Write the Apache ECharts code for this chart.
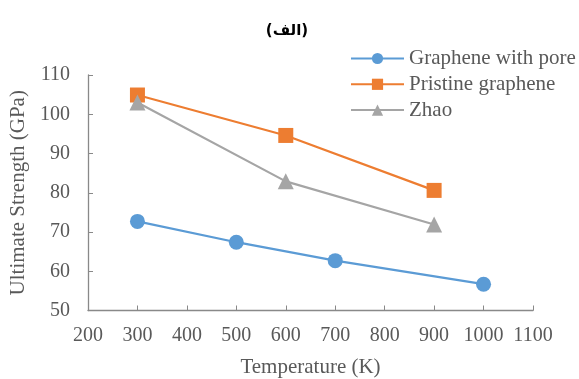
<!DOCTYPE html>
<html><head><meta charset="utf-8">
<script src="https://cdn.jsdelivr.net/npm/echarts@6/dist/echarts.min.js"></script>
<style>html,body{margin:0;padding:0;background:#fff}#c{width:579px;height:379px}</style>
</head><body><div id="c"></div>
<script>
const titleText = '(الف)';
const xName = 'Temperature (K)';
const yName = 'Ultimate Strength (GPa)';
const poreX = [300, 500, 700, 1000];
const poreY = [72.7, 67.4, 62.7, 56.7];
const pristineX = [300, 600, 900];
const pristineY = [104.9, 94.6, 80.6];
const zhaoX = [300, 600, 900];
const zhaoY = [103.0, 82.9, 71.9];
const seriesNames = ['Graphene with pore', 'Pristine graphene', 'Zhao'];

function pairs(xs, ys){ return xs.map((x,i)=>[x, ys[i]]); }
const font = '"Liberation Serif", "Times New Roman", serif';
const txt = '#595959';
const axisCol = '#898989';

const chart = echarts.init(document.getElementById('c'));
chart.setOption({
  animation: false,
  backgroundColor: '#fff',
  title: { text: titleText, left: 282, top: 19, textAlign: 'center',
    textStyle: { fontFamily: '"DejaVu Sans", "Noto Sans", sans-serif', fontSize: 15, fontWeight: 'bold', color: '#000' } },
  legend: {
    orient: 'vertical', left: 350, top: 48, padding: 0, itemWidth: 53, itemHeight: 14, itemGap: 4.8,
    textStyle: { fontFamily: font, fontSize: 21, color: txt },
    data: seriesNames
  },
  grid: { left: 88, right: 46, top: 75, bottom: 68.5, outerBoundsMode: 'none' },
  xAxis: {
    type: 'value', min: 200, max: 1100, interval: 100,
    name: xName, nameLocation: 'middle', nameGap: 46,
    nameTextStyle: { fontFamily: font, fontSize: 21, color: txt },
    axisLine: { show: true, lineStyle: { color: axisCol, width: 1.3 } },
    axisTick: { show: true, inside: true, length: 5, lineStyle: { color: axisCol } },
    axisLabel: { fontFamily: font, fontSize: 20, color: txt, margin: 15, formatter: v => String(v) },
    splitLine: { show: false }
  },
  yAxis: {
    type: 'value', min: 50, max: 110, interval: 10,
    name: yName, nameLocation: 'middle', nameGap: 52, nameRotate: 90,
    nameTextStyle: { fontFamily: font, fontSize: 21, color: txt },
    axisLine: { show: true, lineStyle: { color: axisCol, width: 1.3 } },
    axisTick: { show: true, inside: true, length: 5, lineStyle: { color: axisCol } },
    axisLabel: { fontFamily: font, fontSize: 20, color: txt, margin: 18, formatter: v => String(v) },
    splitLine: { show: false }
  },
  series: [
    { name: seriesNames[0], type: 'line', data: pairs(poreX, poreY), symbol: 'circle', symbolSize: 15,
      itemStyle: { color: '#5B9BD5' }, lineStyle: { color: '#5B9BD5', width: 2.2 } },
    { name: seriesNames[1], type: 'line', data: pairs(pristineX, pristineY), symbol: 'rect', symbolSize: 15,
      itemStyle: { color: '#ED7D31' }, lineStyle: { color: '#ED7D31', width: 2.2 } },
    { name: seriesNames[2], type: 'line', data: pairs(zhaoX, zhaoY), symbol: 'triangle', symbolSize: 16,
      itemStyle: { color: '#A5A5A5' }, lineStyle: { color: '#A5A5A5', width: 2.2 } }
  ]
});
</script></body></html>
